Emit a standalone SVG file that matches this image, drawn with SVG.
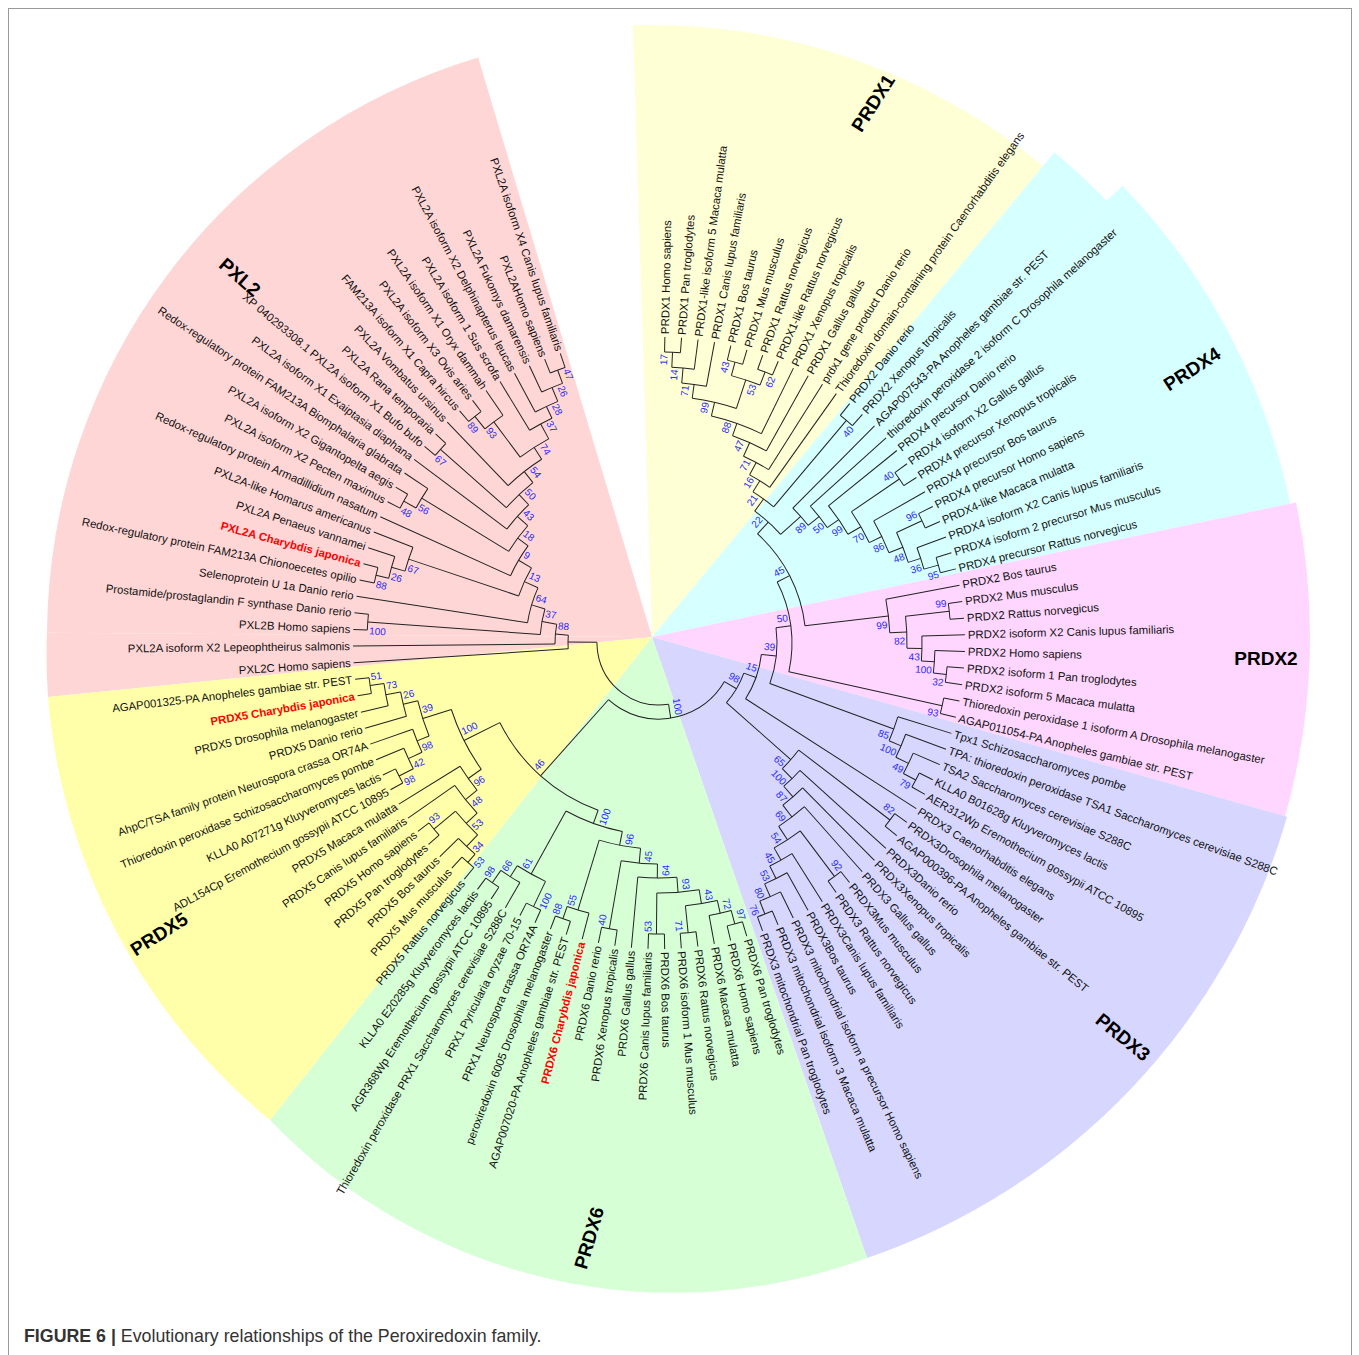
<svg xmlns="http://www.w3.org/2000/svg" width="1359" height="1355" viewBox="0 0 1359 1355">
<style>
text{font-family:"Liberation Sans",Arial,Helvetica,sans-serif}
.lf text{font-size:11.4px;fill:#111}
.lf .e{text-anchor:end}
.lf .red{fill:#ff0000;font-weight:bold}
.bs text{font-size:10px;fill:#2b2bf5}
.bs .e{text-anchor:end}
.cl{font-size:19px;font-weight:bold;text-anchor:middle;fill:#000}
#connectors line,#connectors circle{fill:none;stroke:#222;stroke-width:1}
</style>
<rect width="1359" height="1355" fill="#fff"/>
<rect x="8.5" y="8.5" width="1343" height="1360" fill="none" stroke="#999"/>
<g id="sectors">
<path d="M652 637L48 697A605 605 0 0 1 47 632.8Z" fill="#ffd6d6"/>
<path d="M652 637L47 632.8A605 605 0 0 1 478.1 57.5Z" fill="#ffd6d6"/>
<path d="M652 637L632.8 25.3A612 612 0 0 1 1042.9 166.1Z" fill="#ffffd6"/>
<path d="M652 637L1054.4 152.3A630 630 0 0 1 1106.7 201Z" fill="#d6ffff"/>
<path d="M652 637L1122.6 185.7A652 652 0 0 1 1290.2 503.7Z" fill="#d6ffff"/>
<path d="M652 637L1296.1 502.4A658 658 0 0 1 1285.1 816.2Z" fill="#ffd6ff"/>
<path d="M652 637L1287.1 816.7A660 660 0 0 1 867 1258Z" fill="#d6d6ff"/>
<path d="M652 637L867 1258A557 557 0 0 1 270 1120Z" fill="#d6ffd6"/>
<path d="M652 637L270 1120A612 612 0 0 1 48 697Z" fill="#ffffaa"/>
</g>
<g id="clade-labels">
<text class="cl" transform="translate(240 277) rotate(41)" dy="0.35em">PXL2</text>
<text class="cl" transform="translate(873 103) rotate(-57.5)" dy="0.35em">PRDX1</text>
<text class="cl" transform="translate(1192 369) rotate(-33)" dy="0.35em">PRDX4</text>
<text class="cl" transform="translate(1266 658)" dy="0.35em">PRDX2</text>
<text class="cl" transform="translate(1123 1037) rotate(39)" dy="0.35em">PRDX3</text>
<text class="cl" transform="translate(589 1238) rotate(-73.6)" dy="0.35em">PRDX6</text>
<text class="cl" transform="translate(159 934) rotate(-32.5)" dy="0.35em">PRDX5</text>
</g>
<g id="connectors" transform="translate(659 643)">
<circle r="62" pathLength="360" stroke-dasharray="99.47 360" transform="rotate(81.13)"/>
<line x1="62" x2="76" transform="rotate(81.13)"/><line x1="62" x2="91" transform="rotate(180.6)"/>
<circle r="76" pathLength="360" stroke-dasharray="101.18 360" transform="rotate(30.54)"/>
<line x1="76" x2="90" transform="rotate(30.54)"/><line x1="76" x2="178" transform="rotate(131.72)"/>
<circle r="90" pathLength="360" stroke-dasharray="21.94 360" transform="rotate(19.57)"/>
<line x1="90" x2="103" transform="rotate(19.57)"/><line x1="90" x2="176" transform="rotate(41.51)"/>
<circle r="103" pathLength="360" stroke-dasharray="26.42 360" transform="rotate(6.36)"/>
<line x1="103" x2="118" transform="rotate(6.36)"/><line x1="103" x2="306" transform="rotate(32.78)"/>
<circle r="118" pathLength="360" stroke-dasharray="27.51 360" transform="rotate(-7.4)"/>
<line x1="118" x2="133" transform="rotate(-7.4)"/><line x1="118" x2="250" transform="rotate(20.11)"/>
<circle r="133" pathLength="360" stroke-dasharray="39.8 360" transform="rotate(-27.3)"/>
<line x1="133" x2="147" transform="rotate(-27.3)"/><line x1="133" x2="290" transform="rotate(12.5)"/>
<circle r="147" pathLength="360" stroke-dasharray="41.18 360" transform="rotate(-47.89)"/>
<line x1="147" x2="163" transform="rotate(-47.89)"/><line x1="147" x2="231" transform="rotate(-6.71)"/>
<circle r="163" pathLength="360" stroke-dasharray="12.27 360" transform="rotate(-54.02)"/>
<line x1="163" x2="178" transform="rotate(-54.02)"/><line x1="163" x2="190" transform="rotate(-41.75)"/>
<circle r="178" pathLength="360" stroke-dasharray="8.23 360" transform="rotate(-58.13)"/>
<line x1="178" x2="191" transform="rotate(-58.13)"/><line x1="178" x2="291" transform="rotate(-49.9)"/>
<circle r="191" pathLength="360" stroke-dasharray="7.1 360" transform="rotate(-61.68)"/>
<line x1="191" x2="205" transform="rotate(-61.68)"/><line x1="191" x2="306" transform="rotate(-54.58)"/>
<circle r="205" pathLength="360" stroke-dasharray="7.95 360" transform="rotate(-65.65)"/>
<line x1="205" x2="220" transform="rotate(-65.65)"/><line x1="205" x2="306" transform="rotate(-57.7)"/>
<circle r="220" pathLength="360" stroke-dasharray="9.65 360" transform="rotate(-70.47)"/>
<line x1="220" x2="233" transform="rotate(-70.47)"/><line x1="220" x2="306" transform="rotate(-60.82)"/>
<circle r="233" pathLength="360" stroke-dasharray="13.06 360" transform="rotate(-77)"/>
<line x1="233" x2="247" transform="rotate(-77)"/><line x1="233" x2="306" transform="rotate(-63.94)"/>
<circle r="247" pathLength="360" stroke-dasharray="10.53 360" transform="rotate(-82.27)"/>
<line x1="247" x2="261" transform="rotate(-82.27)"/><line x1="247" x2="277" transform="rotate(-71.74)"/>
<circle r="261" pathLength="360" stroke-dasharray="5.46 360" transform="rotate(-85)"/>
<line x1="261" x2="276" transform="rotate(-85)"/><line x1="261" x2="306" transform="rotate(-79.54)"/>
<circle r="276" pathLength="360" stroke-dasharray="4.68 360" transform="rotate(-87.34)"/>
<line x1="276" x2="291" transform="rotate(-87.34)"/><line x1="276" x2="306" transform="rotate(-82.66)"/>
<circle r="291" pathLength="360" stroke-dasharray="3.12 360" transform="rotate(-88.9)"/>
<line x1="291" x2="306" transform="rotate(-88.9)"/><line x1="291" x2="306" transform="rotate(-85.78)"/>
<circle r="277" pathLength="360" stroke-dasharray="6.24 360" transform="rotate(-74.86)"/>
<line x1="277" x2="291" transform="rotate(-74.86)"/><line x1="277" x2="291" transform="rotate(-68.62)"/>
<circle r="291" pathLength="360" stroke-dasharray="3.12 360" transform="rotate(-76.42)"/>
<line x1="291" x2="306" transform="rotate(-76.42)"/><line x1="291" x2="306" transform="rotate(-73.3)"/>
<circle r="291" pathLength="360" stroke-dasharray="3.12 360" transform="rotate(-70.18)"/>
<line x1="291" x2="306" transform="rotate(-70.18)"/><line x1="291" x2="306" transform="rotate(-67.06)"/>
<circle r="291" pathLength="360" stroke-dasharray="3.12 360" transform="rotate(-51.46)"/>
<line x1="291" x2="306" transform="rotate(-51.46)"/><line x1="291" x2="306" transform="rotate(-48.34)"/>
<circle r="190" pathLength="360" stroke-dasharray="6.94 360" transform="rotate(-45.22)"/>
<line x1="190" x2="306" transform="rotate(-45.22)"/><line x1="190" x2="204" transform="rotate(-38.28)"/>
<circle r="204" pathLength="360" stroke-dasharray="7.65 360" transform="rotate(-42.1)"/>
<line x1="204" x2="306" transform="rotate(-42.1)"/><line x1="204" x2="218" transform="rotate(-34.45)"/>
<circle r="218" pathLength="360" stroke-dasharray="9.06 360" transform="rotate(-38.98)"/>
<line x1="218" x2="306" transform="rotate(-38.98)"/><line x1="218" x2="233" transform="rotate(-29.92)"/>
<circle r="233" pathLength="360" stroke-dasharray="8.77 360" transform="rotate(-34.3)"/>
<line x1="233" x2="291" transform="rotate(-34.3)"/><line x1="233" x2="247" transform="rotate(-25.53)"/>
<circle r="291" pathLength="360" stroke-dasharray="3.12 360" transform="rotate(-35.86)"/>
<line x1="291" x2="306" transform="rotate(-35.86)"/><line x1="291" x2="306" transform="rotate(-32.74)"/>
<circle r="247" pathLength="360" stroke-dasharray="8.19 360" transform="rotate(-29.62)"/>
<line x1="247" x2="306" transform="rotate(-29.62)"/><line x1="247" x2="262" transform="rotate(-21.43)"/>
<circle r="262" pathLength="360" stroke-dasharray="7.02 360" transform="rotate(-24.94)"/>
<line x1="262" x2="290" transform="rotate(-24.94)"/><line x1="262" x2="275" transform="rotate(-17.92)"/>
<circle r="290" pathLength="360" stroke-dasharray="3.12 360" transform="rotate(-26.5)"/>
<line x1="290" x2="306" transform="rotate(-26.5)"/><line x1="290" x2="306" transform="rotate(-23.38)"/>
<circle r="275" pathLength="360" stroke-dasharray="4.68 360" transform="rotate(-20.26)"/>
<line x1="275" x2="306" transform="rotate(-20.26)"/><line x1="275" x2="290" transform="rotate(-15.58)"/>
<circle r="290" pathLength="360" stroke-dasharray="3.12 360" transform="rotate(-17.14)"/>
<line x1="290" x2="306" transform="rotate(-17.14)"/><line x1="290" x2="306" transform="rotate(-14.02)"/>
<circle r="231" pathLength="360" stroke-dasharray="8.38 360" transform="rotate(-10.9)"/>
<line x1="231" x2="306" transform="rotate(-10.9)"/><line x1="231" x2="248" transform="rotate(-2.52)"/>
<circle r="248" pathLength="360" stroke-dasharray="7.41 360" transform="rotate(-6.22)"/>
<line x1="248" x2="292" transform="rotate(-6.22)"/><line x1="248" x2="263" transform="rotate(1.19)"/>
<circle r="292" pathLength="360" stroke-dasharray="3.12 360" transform="rotate(-7.78)"/>
<line x1="292" x2="306" transform="rotate(-7.78)"/><line x1="292" x2="306" transform="rotate(-4.66)"/>
<circle r="263" pathLength="360" stroke-dasharray="5.46 360" transform="rotate(-1.54)"/>
<line x1="263" x2="306" transform="rotate(-1.54)"/><line x1="263" x2="276" transform="rotate(3.92)"/>
<circle r="276" pathLength="360" stroke-dasharray="4.68 360" transform="rotate(1.58)"/>
<line x1="276" x2="306" transform="rotate(1.58)"/><line x1="276" x2="289" transform="rotate(6.26)"/>
<circle r="289" pathLength="360" stroke-dasharray="3.12 360" transform="rotate(4.7)"/>
<line x1="289" x2="306" transform="rotate(4.7)"/><line x1="289" x2="306" transform="rotate(7.82)"/>
<circle r="290" pathLength="360" stroke-dasharray="3.12 360" transform="rotate(10.94)"/>
<line x1="290" x2="306" transform="rotate(10.94)"/><line x1="290" x2="306" transform="rotate(14.06)"/>
<circle r="250" pathLength="360" stroke-dasharray="5.85 360" transform="rotate(17.18)"/>
<line x1="250" x2="306" transform="rotate(17.18)"/><line x1="250" x2="263" transform="rotate(23.03)"/>
<circle r="263" pathLength="360" stroke-dasharray="5.46 360" transform="rotate(20.3)"/>
<line x1="263" x2="306" transform="rotate(20.3)"/><line x1="263" x2="277" transform="rotate(25.76)"/>
<circle r="277" pathLength="360" stroke-dasharray="4.68 360" transform="rotate(23.42)"/>
<line x1="277" x2="306" transform="rotate(23.42)"/><line x1="277" x2="291" transform="rotate(28.1)"/>
<circle r="291" pathLength="360" stroke-dasharray="3.12 360" transform="rotate(26.54)"/>
<line x1="291" x2="306" transform="rotate(26.54)"/><line x1="291" x2="306" transform="rotate(29.66)"/>
<circle r="176" pathLength="360" stroke-dasharray="8.09 360" transform="rotate(37.46)"/>
<line x1="176" x2="291" transform="rotate(37.46)"/><line x1="176" x2="190" transform="rotate(45.55)"/>
<circle r="291" pathLength="360" stroke-dasharray="3.12 360" transform="rotate(35.9)"/>
<line x1="291" x2="306" transform="rotate(35.9)"/><line x1="291" x2="306" transform="rotate(39.02)"/>
<circle r="190" pathLength="360" stroke-dasharray="6.81 360" transform="rotate(42.14)"/>
<line x1="190" x2="306" transform="rotate(42.14)"/><line x1="190" x2="204" transform="rotate(48.95)"/>
<circle r="204" pathLength="360" stroke-dasharray="7.37 360" transform="rotate(45.26)"/>
<line x1="204" x2="306" transform="rotate(45.26)"/><line x1="204" x2="219" transform="rotate(52.63)"/>
<circle r="219" pathLength="360" stroke-dasharray="8.49 360" transform="rotate(48.38)"/>
<line x1="219" x2="306" transform="rotate(48.38)"/><line x1="219" x2="235" transform="rotate(56.87)"/>
<circle r="235" pathLength="360" stroke-dasharray="7.61 360" transform="rotate(53.06)"/>
<line x1="235" x2="292" transform="rotate(53.06)"/><line x1="235" x2="249" transform="rotate(60.67)"/>
<circle r="292" pathLength="360" stroke-dasharray="3.12 360" transform="rotate(51.5)"/>
<line x1="292" x2="306" transform="rotate(51.5)"/><line x1="292" x2="306" transform="rotate(54.62)"/>
<circle r="249" pathLength="360" stroke-dasharray="5.85 360" transform="rotate(57.74)"/>
<line x1="249" x2="306" transform="rotate(57.74)"/><line x1="249" x2="263" transform="rotate(63.59)"/>
<circle r="263" pathLength="360" stroke-dasharray="5.46 360" transform="rotate(60.86)"/>
<line x1="263" x2="306" transform="rotate(60.86)"/><line x1="263" x2="277" transform="rotate(66.32)"/>
<circle r="277" pathLength="360" stroke-dasharray="4.68 360" transform="rotate(63.98)"/>
<line x1="277" x2="306" transform="rotate(63.98)"/><line x1="277" x2="291" transform="rotate(68.66)"/>
<circle r="291" pathLength="360" stroke-dasharray="3.12 360" transform="rotate(67.1)"/>
<line x1="291" x2="306" transform="rotate(67.1)"/><line x1="291" x2="306" transform="rotate(70.22)"/>
<circle r="178" pathLength="360" stroke-dasharray="43.45 360" transform="rotate(109.99)"/>
<line x1="178" x2="192" transform="rotate(109.99)"/><line x1="178" x2="218" transform="rotate(153.44)"/>
<circle r="192" pathLength="360" stroke-dasharray="17.96 360" transform="rotate(101.01)"/>
<line x1="192" x2="206" transform="rotate(101.01)"/><line x1="192" x2="264" transform="rotate(118.97)"/>
<circle r="206" pathLength="360" stroke-dasharray="11.74 360" transform="rotate(95.14)"/>
<line x1="206" x2="221" transform="rotate(95.14)"/><line x1="206" x2="279" transform="rotate(106.88)"/>
<circle r="221" pathLength="360" stroke-dasharray="9.45 360" transform="rotate(90.41)"/>
<line x1="221" x2="235" transform="rotate(90.41)"/><line x1="221" x2="290" transform="rotate(99.86)"/>
<circle r="235" pathLength="360" stroke-dasharray="9.55 360" transform="rotate(85.63)"/>
<line x1="235" x2="250" transform="rotate(85.63)"/><line x1="235" x2="306" transform="rotate(95.18)"/>
<circle r="250" pathLength="360" stroke-dasharray="9.75 360" transform="rotate(80.75)"/>
<line x1="250" x2="264" transform="rotate(80.75)"/><line x1="250" x2="291" transform="rotate(90.5)"/>
<circle r="264" pathLength="360" stroke-dasharray="7.02 360" transform="rotate(77.24)"/>
<line x1="264" x2="277" transform="rotate(77.24)"/><line x1="264" x2="291" transform="rotate(84.26)"/>
<circle r="277" pathLength="360" stroke-dasharray="4.68 360" transform="rotate(74.9)"/>
<line x1="277" x2="291" transform="rotate(74.9)"/><line x1="277" x2="306" transform="rotate(79.58)"/>
<circle r="291" pathLength="360" stroke-dasharray="3.12 360" transform="rotate(73.34)"/>
<line x1="291" x2="306" transform="rotate(73.34)"/><line x1="291" x2="306" transform="rotate(76.46)"/>
<circle r="291" pathLength="360" stroke-dasharray="3.12 360" transform="rotate(82.7)"/>
<line x1="291" x2="306" transform="rotate(82.7)"/><line x1="291" x2="306" transform="rotate(85.82)"/>
<circle r="291" pathLength="360" stroke-dasharray="3.12 360" transform="rotate(88.94)"/>
<line x1="291" x2="306" transform="rotate(88.94)"/><line x1="291" x2="306" transform="rotate(92.06)"/>
<circle r="290" pathLength="360" stroke-dasharray="3.12 360" transform="rotate(98.3)"/>
<line x1="290" x2="306" transform="rotate(98.3)"/><line x1="290" x2="306" transform="rotate(101.42)"/>
<circle r="279" pathLength="360" stroke-dasharray="4.68 360" transform="rotate(104.54)"/>
<line x1="279" x2="306" transform="rotate(104.54)"/><line x1="279" x2="292" transform="rotate(109.22)"/>
<circle r="292" pathLength="360" stroke-dasharray="3.12 360" transform="rotate(107.66)"/>
<line x1="292" x2="306" transform="rotate(107.66)"/><line x1="292" x2="306" transform="rotate(110.78)"/>
<circle r="264" pathLength="360" stroke-dasharray="7.02 360" transform="rotate(115.46)"/>
<line x1="264" x2="292" transform="rotate(115.46)"/><line x1="264" x2="277" transform="rotate(122.48)"/>
<circle r="292" pathLength="360" stroke-dasharray="3.12 360" transform="rotate(113.9)"/>
<line x1="292" x2="306" transform="rotate(113.9)"/><line x1="292" x2="306" transform="rotate(117.02)"/>
<circle r="277" pathLength="360" stroke-dasharray="4.68 360" transform="rotate(120.14)"/>
<line x1="277" x2="306" transform="rotate(120.14)"/><line x1="277" x2="292" transform="rotate(124.82)"/>
<circle r="292" pathLength="360" stroke-dasharray="3.12 360" transform="rotate(123.26)"/>
<line x1="292" x2="306" transform="rotate(123.26)"/><line x1="292" x2="306" transform="rotate(126.38)"/>
<circle r="218" pathLength="360" stroke-dasharray="17.64 360" transform="rotate(144.62)"/>
<line x1="218" x2="234" transform="rotate(144.62)"/><line x1="218" x2="248" transform="rotate(162.26)"/>
<circle r="234" pathLength="360" stroke-dasharray="7.21 360" transform="rotate(141.01)"/>
<line x1="234" x2="249" transform="rotate(141.01)"/><line x1="234" x2="306" transform="rotate(148.22)"/>
<circle r="249" pathLength="360" stroke-dasharray="8.19 360" transform="rotate(136.91)"/>
<line x1="249" x2="264" transform="rotate(136.91)"/><line x1="249" x2="306" transform="rotate(145.1)"/>
<circle r="264" pathLength="360" stroke-dasharray="7.02 360" transform="rotate(133.4)"/>
<line x1="264" x2="280" transform="rotate(133.4)"/><line x1="264" x2="292" transform="rotate(140.42)"/>
<circle r="280" pathLength="360" stroke-dasharray="4.68 360" transform="rotate(131.06)"/>
<line x1="280" x2="291" transform="rotate(131.06)"/><line x1="280" x2="306" transform="rotate(135.74)"/>
<circle r="291" pathLength="360" stroke-dasharray="3.12 360" transform="rotate(129.5)"/>
<line x1="291" x2="306" transform="rotate(129.5)"/><line x1="291" x2="306" transform="rotate(132.62)"/>
<circle r="292" pathLength="360" stroke-dasharray="3.12 360" transform="rotate(138.86)"/>
<line x1="292" x2="306" transform="rotate(138.86)"/><line x1="292" x2="306" transform="rotate(141.98)"/>
<circle r="248" pathLength="360" stroke-dasharray="8.58 360" transform="rotate(157.97)"/>
<line x1="248" x2="261" transform="rotate(157.97)"/><line x1="248" x2="263" transform="rotate(166.55)"/>
<circle r="261" pathLength="360" stroke-dasharray="5.46 360" transform="rotate(155.24)"/>
<line x1="261" x2="276" transform="rotate(155.24)"/><line x1="261" x2="306" transform="rotate(160.7)"/>
<circle r="276" pathLength="360" stroke-dasharray="4.68 360" transform="rotate(152.9)"/>
<line x1="276" x2="292" transform="rotate(152.9)"/><line x1="276" x2="306" transform="rotate(157.58)"/>
<circle r="292" pathLength="360" stroke-dasharray="3.12 360" transform="rotate(151.34)"/>
<line x1="292" x2="306" transform="rotate(151.34)"/><line x1="292" x2="306" transform="rotate(154.46)"/>
<circle r="263" pathLength="360" stroke-dasharray="5.46 360" transform="rotate(163.82)"/>
<line x1="263" x2="306" transform="rotate(163.82)"/><line x1="263" x2="278" transform="rotate(169.28)"/>
<circle r="278" pathLength="360" stroke-dasharray="4.68 360" transform="rotate(166.94)"/>
<line x1="278" x2="306" transform="rotate(166.94)"/><line x1="278" x2="292" transform="rotate(171.62)"/>
<circle r="292" pathLength="360" stroke-dasharray="3.12 360" transform="rotate(170.06)"/>
<line x1="292" x2="306" transform="rotate(170.06)"/><line x1="292" x2="306" transform="rotate(173.18)"/>
<circle r="91" pathLength="360" stroke-dasharray="8.6 360" transform="rotate(176.3)"/>
<line x1="91" x2="306" transform="rotate(176.3)"/><line x1="91" x2="104" transform="rotate(184.9)"/>
<circle r="104" pathLength="360" stroke-dasharray="10.96 360" transform="rotate(179.42)"/>
<line x1="104" x2="306" transform="rotate(179.42)"/><line x1="104" x2="119" transform="rotate(190.38)"/>
<circle r="119" pathLength="360" stroke-dasharray="12.55 360" transform="rotate(184.1)"/>
<line x1="119" x2="292" transform="rotate(184.1)"/><line x1="119" x2="133" transform="rotate(196.65)"/>
<circle r="292" pathLength="360" stroke-dasharray="3.12 360" transform="rotate(182.54)"/>
<line x1="292" x2="306" transform="rotate(182.54)"/><line x1="292" x2="306" transform="rotate(185.66)"/>
<circle r="133" pathLength="360" stroke-dasharray="15.73 360" transform="rotate(188.78)"/>
<line x1="133" x2="306" transform="rotate(188.78)"/><line x1="133" x2="148" transform="rotate(204.51)"/>
<circle r="148" pathLength="360" stroke-dasharray="11.96 360" transform="rotate(198.53)"/>
<line x1="148" x2="264" transform="rotate(198.53)"/><line x1="148" x2="163" transform="rotate(210.49)"/>
<circle r="264" pathLength="360" stroke-dasharray="5.46 360" transform="rotate(195.8)"/>
<line x1="264" x2="278" transform="rotate(195.8)"/><line x1="264" x2="306" transform="rotate(201.26)"/>
<circle r="278" pathLength="360" stroke-dasharray="4.68 360" transform="rotate(193.46)"/>
<line x1="278" x2="291" transform="rotate(193.46)"/><line x1="278" x2="306" transform="rotate(198.14)"/>
<circle r="291" pathLength="360" stroke-dasharray="3.12 360" transform="rotate(191.9)"/>
<line x1="291" x2="306" transform="rotate(191.9)"/><line x1="291" x2="306" transform="rotate(195.02)"/>
<circle r="163" pathLength="360" stroke-dasharray="12.21 360" transform="rotate(204.38)"/>
<line x1="163" x2="306" transform="rotate(204.38)"/><line x1="163" x2="176" transform="rotate(216.59)"/>
<circle r="176" pathLength="360" stroke-dasharray="10.38 360" transform="rotate(211.4)"/>
<line x1="176" x2="278" transform="rotate(211.4)"/><line x1="176" x2="190" transform="rotate(221.78)"/>
<circle r="278" pathLength="360" stroke-dasharray="4.68 360" transform="rotate(209.06)"/>
<line x1="278" x2="292" transform="rotate(209.06)"/><line x1="278" x2="306" transform="rotate(213.74)"/>
<circle r="292" pathLength="360" stroke-dasharray="3.12 360" transform="rotate(207.5)"/>
<line x1="292" x2="306" transform="rotate(207.5)"/><line x1="292" x2="306" transform="rotate(210.62)"/>
<circle r="190" pathLength="360" stroke-dasharray="9.83 360" transform="rotate(216.86)"/>
<line x1="190" x2="306" transform="rotate(216.86)"/><line x1="190" x2="204" transform="rotate(226.69)"/>
<circle r="204" pathLength="360" stroke-dasharray="10.29 360" transform="rotate(221.54)"/>
<line x1="204" x2="292" transform="rotate(221.54)"/><line x1="204" x2="218" transform="rotate(231.83)"/>
<circle r="292" pathLength="360" stroke-dasharray="3.12 360" transform="rotate(219.98)"/>
<line x1="292" x2="306" transform="rotate(219.98)"/><line x1="292" x2="306" transform="rotate(223.1)"/>
<circle r="218" pathLength="360" stroke-dasharray="11.22 360" transform="rotate(226.22)"/>
<line x1="218" x2="306" transform="rotate(226.22)"/><line x1="218" x2="232" transform="rotate(237.44)"/>
<circle r="232" pathLength="360" stroke-dasharray="8.39 360" transform="rotate(233.24)"/>
<line x1="232" x2="276" transform="rotate(233.24)"/><line x1="232" x2="249" transform="rotate(241.63)"/>
<circle r="276" pathLength="360" stroke-dasharray="4.68 360" transform="rotate(230.9)"/>
<line x1="276" x2="292" transform="rotate(230.9)"/><line x1="276" x2="306" transform="rotate(235.58)"/>
<circle r="292" pathLength="360" stroke-dasharray="3.12 360" transform="rotate(229.34)"/>
<line x1="292" x2="306" transform="rotate(229.34)"/><line x1="292" x2="306" transform="rotate(232.46)"/>
<circle r="249" pathLength="360" stroke-dasharray="5.85 360" transform="rotate(238.7)"/>
<line x1="249" x2="306" transform="rotate(238.7)"/><line x1="249" x2="262" transform="rotate(244.55)"/>
<circle r="262" pathLength="360" stroke-dasharray="5.46 360" transform="rotate(241.82)"/>
<line x1="262" x2="306" transform="rotate(241.82)"/><line x1="262" x2="277" transform="rotate(247.28)"/>
<circle r="277" pathLength="360" stroke-dasharray="4.68 360" transform="rotate(244.94)"/>
<line x1="277" x2="306" transform="rotate(244.94)"/><line x1="277" x2="291" transform="rotate(249.62)"/>
<circle r="291" pathLength="360" stroke-dasharray="3.12 360" transform="rotate(248.06)"/>
<line x1="291" x2="306" transform="rotate(248.06)"/><line x1="291" x2="306" transform="rotate(251.18)"/>
</g>
<g id="leaves" class="lf" transform="translate(659 643)">
<text transform="rotate(-88.9)" x="309" y="4">PRDX1 Homo sapiens</text>
<text transform="rotate(-85.78)" x="309" y="4">PRDX1 Pan troglodytes</text>
<text transform="rotate(-82.66)" x="309" y="4">PRDX1-like isoform 5 Macaca mulatta</text>
<text transform="rotate(-79.54)" x="309" y="4">PRDX1 Canis lupus familiaris</text>
<text transform="rotate(-76.42)" x="309" y="4">PRDX1 Bos taurus</text>
<text transform="rotate(-73.3)" x="309" y="4">PRDX1 Mus musculus</text>
<text transform="rotate(-70.18)" x="309" y="4">PRDX1 Rattus norvegicus</text>
<text transform="rotate(-67.06)" x="309" y="4">PRDX1-like Rattus norvegicus</text>
<text transform="rotate(-63.94)" x="309" y="4">PRDX1 Xenopus tropicalis</text>
<text transform="rotate(-60.82)" x="309" y="4">PRDX1 Gallus gallus</text>
<text transform="rotate(-57.7)" x="309" y="4">prdx1 gene product Danio rerio</text>
<text transform="rotate(-54.58)" x="309" y="4">Thioredoxin domain-containing protein Caenorhabditis elegans</text>
<text transform="rotate(-51.46)" x="309" y="4">PRDX2 Danio rerio</text>
<text transform="rotate(-48.34)" x="309" y="4">PRDX2 Xenopus tropicalis</text>
<text transform="rotate(-45.22)" x="309" y="4">AGAP007543-PA Anopheles gambiae str. PEST</text>
<text transform="rotate(-42.1)" x="309" y="4">thioredoxin peroxidase 2 isoform C Drosophila melanogaster</text>
<text transform="rotate(-38.98)" x="309" y="4">PRDX4 precursor Danio rerio</text>
<text transform="rotate(-35.86)" x="309" y="4">PRDX4 isoform X2 Gallus gallus</text>
<text transform="rotate(-32.74)" x="309" y="4">PRDX4 precursor Xenopus tropicalis</text>
<text transform="rotate(-29.62)" x="309" y="4">PRDX4 precursor Bos taurus</text>
<text transform="rotate(-26.5)" x="309" y="4">PRDX4 precursor Homo sapiens</text>
<text transform="rotate(-23.38)" x="309" y="4">PRDX4-like Macaca mulatta</text>
<text transform="rotate(-20.26)" x="309" y="4">PRDX4 isoform X2 Canis lupus familiaris</text>
<text transform="rotate(-17.14)" x="309" y="4">PRDX4 isoform 2 precursor Mus musculus</text>
<text transform="rotate(-14.02)" x="309" y="4">PRDX4 precursor Rattus norvegicus</text>
<text transform="rotate(-10.9)" x="309" y="4">PRDX2 Bos taurus</text>
<text transform="rotate(-7.78)" x="309" y="4">PRDX2 Mus musculus</text>
<text transform="rotate(-4.66)" x="309" y="4">PRDX2 Rattus norvegicus</text>
<text transform="rotate(-1.54)" x="309" y="4">PRDX2 isoform X2 Canis lupus familiaris</text>
<text transform="rotate(1.58)" x="309" y="4">PRDX2 Homo sapiens</text>
<text transform="rotate(4.7)" x="309" y="4">PRDX2 isoform 1 Pan troglodytes</text>
<text transform="rotate(7.82)" x="309" y="4">PRDX2 isoform 5 Macaca mulatta</text>
<text transform="rotate(10.94)" x="309" y="4">Thioredoxin peroxidase 1 isoform A Drosophila melanogaster</text>
<text transform="rotate(14.06)" x="309" y="4">AGAP011054-PA Anopheles gambiae str. PEST</text>
<text transform="rotate(17.18)" x="309" y="4">Tpx1 Schizosaccharomyces pombe</text>
<text transform="rotate(20.3)" x="309" y="4">TPA: thioredoxin peroxidase TSA1 Saccharomyces cerevisiae S288C</text>
<text transform="rotate(23.42)" x="309" y="4">TSA2 Saccharomyces cerevisiae S288C</text>
<text transform="rotate(26.54)" x="309" y="4">KLLA0 B01628g Kluyveromyces lactis</text>
<text transform="rotate(29.66)" x="309" y="4">AER312Wp Eremothecium gossypii ATCC 10895</text>
<text transform="rotate(32.78)" x="309" y="4">PRDX3 Caenorhabditis elegans</text>
<text transform="rotate(35.9)" x="309" y="4">PRDX3Drosophila melanogaster</text>
<text transform="rotate(39.02)" x="309" y="4">AGAP000396-PA Anopheles gambiae str. PEST</text>
<text transform="rotate(42.14)" x="309" y="4">PRDX3Danio rerio</text>
<text transform="rotate(45.26)" x="309" y="4">PRDX3Xenopus tropicalis</text>
<text transform="rotate(48.38)" x="309" y="4">PRDX3 Gallus gallus</text>
<text transform="rotate(51.5)" x="309" y="4">PRDX3Mus musculus</text>
<text transform="rotate(54.62)" x="309" y="4">PRDX3 Rattus norvegicus</text>
<text transform="rotate(57.74)" x="309" y="4">PRDX3Canis lupus familiaris</text>
<text transform="rotate(60.86)" x="309" y="4">PRDX3Bos taurus</text>
<text transform="rotate(63.98)" x="309" y="4">PRDX3 mitochondrial isoform a precursor Homo sapiens</text>
<text transform="rotate(67.1)" x="309" y="4">PRDX3 mitochondrial isoform 3 Macaca mulatta</text>
<text transform="rotate(70.22)" x="309" y="4">PRDX3 mitochondrial Pan troglodytes</text>
<text transform="rotate(73.34)" x="309" y="4">PRDX6 Pan troglodytes</text>
<text transform="rotate(76.46)" x="309" y="4">PRDX6 Homo sapiens</text>
<text transform="rotate(79.58)" x="309" y="4">PRDX6 Macaca mulatta</text>
<text transform="rotate(82.7)" x="309" y="4">PRDX6 Rattus norvegicus</text>
<text transform="rotate(85.82)" x="309" y="4">PRDX6 isoform 1 Mus musculus</text>
<text transform="rotate(88.94)" x="309" y="4">PRDX6 Bos taurus</text>
<text class="e" transform="rotate(-87.94)" x="-309" y="4">PRDX6 Canis lupus familiaris</text>
<text class="e" transform="rotate(-84.82)" x="-309" y="4">PRDX6 Gallus gallus</text>
<text class="e" transform="rotate(-81.7)" x="-309" y="4">PRDX6 Xenopus tropicalis</text>
<text class="e" transform="rotate(-78.58)" x="-309" y="4">PRDX6 Danio rerio</text>
<text class="e red" transform="rotate(-75.46)" x="-309" y="4">PRDX6 Charybdis japonica</text>
<text class="e" transform="rotate(-72.34)" x="-309" y="4">AGAP007020-PA Anopheles gambiae str. PEST</text>
<text class="e" transform="rotate(-69.22)" x="-309" y="4">peroxiredoxin 6005 Drosophila melanogaster</text>
<text class="e" transform="rotate(-66.1)" x="-309" y="4">PRX1 Neurospora crassa OR74A</text>
<text class="e" transform="rotate(-62.98)" x="-309" y="4">PRX1 Pyricularia oryzae 70-15</text>
<text class="e" transform="rotate(-59.86)" x="-309" y="4">Thioredoxin peroxidase PRX1 Saccharomyces cerevisiae S288C</text>
<text class="e" transform="rotate(-56.74)" x="-309" y="4">AGR368Wp Eremothecium gossypii ATCC 10895</text>
<text class="e" transform="rotate(-53.62)" x="-309" y="4">KLLA0 E20285g Kluyveromyces lactis</text>
<text class="e" transform="rotate(-50.5)" x="-309" y="4">PRDX5 Rattus norvegicus</text>
<text class="e" transform="rotate(-47.38)" x="-309" y="4">PRDX5 Mus musculus</text>
<text class="e" transform="rotate(-44.26)" x="-309" y="4">PRDX5 Bos taurus</text>
<text class="e" transform="rotate(-41.14)" x="-309" y="4">PRDX5 Pan troglodytes</text>
<text class="e" transform="rotate(-38.02)" x="-309" y="4">PRDX5 Homo sapiens</text>
<text class="e" transform="rotate(-34.9)" x="-309" y="4">PRDX5 Canis lupus familiaris</text>
<text class="e" transform="rotate(-31.78)" x="-309" y="4">PRDX5 Macaca mulatta</text>
<text class="e" transform="rotate(-28.66)" x="-309" y="4">ADL154Cp Eremothecium gossypii ATCC 10895</text>
<text class="e" transform="rotate(-25.54)" x="-309" y="4">KLLA0 A07271g Kluyveromyces lactis</text>
<text class="e" transform="rotate(-22.42)" x="-309" y="4">Thioredoxin peroxidase Schizosaccharomyces pombe</text>
<text class="e" transform="rotate(-19.3)" x="-309" y="4">AhpC/TSA family protein Neurospora crassa OR74A</text>
<text class="e" transform="rotate(-16.18)" x="-309" y="4">PRDX5 Danio rerio</text>
<text class="e" transform="rotate(-13.06)" x="-309" y="4">PRDX5 Drosophila melanogaster</text>
<text class="e red" transform="rotate(-9.94)" x="-309" y="4">PRDX5 Charybdis japonica</text>
<text class="e" transform="rotate(-6.82)" x="-309" y="4">AGAP001325-PA Anopheles gambiae str. PEST</text>
<text class="e" transform="rotate(-3.7)" x="-309" y="4">PXL2C Homo sapiens</text>
<text class="e" transform="rotate(-0.58)" x="-309" y="4">PXL2A isoform X2 Lepeophtheirus salmonis</text>
<text class="e" transform="rotate(2.54)" x="-309" y="4">PXL2B Homo sapiens</text>
<text class="e" transform="rotate(5.66)" x="-309" y="4">Prostamide/prostaglandin F synthase Danio rerio</text>
<text class="e" transform="rotate(8.78)" x="-309" y="4">Selenoprotein U 1a Danio rerio</text>
<text class="e" transform="rotate(11.9)" x="-309" y="4">Redox-regulatory protein FAM213A Chionoecetes opilio</text>
<text class="e red" transform="rotate(15.02)" x="-309" y="4">PXL2A Charybdis japonica</text>
<text class="e" transform="rotate(18.14)" x="-309" y="4">PXL2A Penaeus vannamei</text>
<text class="e" transform="rotate(21.26)" x="-309" y="4">PXL2A-like Homarus americanus</text>
<text class="e" transform="rotate(24.38)" x="-309" y="4">Redox-regulatory protein Armadillidium nasatum</text>
<text class="e" transform="rotate(27.5)" x="-309" y="4">PXL2A isoform X2 Pecten maximus</text>
<text class="e" transform="rotate(30.62)" x="-309" y="4">PXL2A isoform X2 Gigantopelta aegis</text>
<text class="e" transform="rotate(33.74)" x="-309" y="4">Redox-regulatory protein FAM213A Biomphalaria glabrata</text>
<text class="e" transform="rotate(36.86)" x="-309" y="4">PXL2A isoform X1 Exaiptasia diaphana</text>
<text class="e" transform="rotate(39.98)" x="-309" y="4">XP 040293308.1 PXL2A isoform X1 Bufo bufo</text>
<text class="e" transform="rotate(43.1)" x="-309" y="4">PXL2A Rana temporaria</text>
<text class="e" transform="rotate(46.22)" x="-309" y="4">PXL2A Vombatus ursinus</text>
<text class="e" transform="rotate(49.34)" x="-309" y="4">FAM213A isoform X1 Capra hircus</text>
<text class="e" transform="rotate(52.46)" x="-309" y="4">PXL2A isoform X3 Ovis aries</text>
<text class="e" transform="rotate(55.58)" x="-309" y="4">PXL2A isoform X1 Oryx dammah</text>
<text class="e" transform="rotate(58.7)" x="-309" y="4">PXL2A isoform 1 Sus scrofa</text>
<text class="e" transform="rotate(61.82)" x="-309" y="4">PXL2A isoform X2 Delphinapterus leucas</text>
<text class="e" transform="rotate(64.94)" x="-309" y="4">PXL2A Fukomys damarensis</text>
<text class="e" transform="rotate(68.06)" x="-309" y="4">PXL2AHomo sapiens</text>
<text class="e" transform="rotate(71.18)" x="-309" y="4">PXL2A isoform X4 Canis lupus familiaris</text>
</g>
<g id="bootstrap" class="bs" transform="translate(659 643)">
<text class="e" transform="rotate(81.13)" x="74" y="-5">100</text>
<text class="e" transform="rotate(30.54)" x="88" y="-5">98</text>
<text class="e" transform="rotate(19.57)" x="101" y="-5">15</text>
<text class="e" transform="rotate(41.51)" x="174" y="12">65</text>
<text class="e" transform="rotate(6.36)" x="116" y="-5">39</text>
<text class="e" transform="rotate(-7.4)" x="131" y="-5">50</text>
<text class="e" transform="rotate(20.11)" x="248" y="12">85</text>
<text class="e" transform="rotate(-27.3)" x="145" y="-5">45</text>
<text class="e" transform="rotate(12.5)" x="288" y="12">93</text>
<text class="e" transform="rotate(-47.89)" x="161" y="-5">22</text>
<text class="e" transform="rotate(-6.71)" x="229" y="12">99</text>
<text class="e" transform="rotate(-54.02)" x="176" y="-5">21</text>
<text class="e" transform="rotate(-41.75)" x="188" y="12">89</text>
<text class="e" transform="rotate(-58.13)" x="189" y="-5">16</text>
<text class="e" transform="rotate(-49.9)" x="289" y="12">40</text>
<text class="e" transform="rotate(-61.68)" x="203" y="-5">71</text>
<text class="e" transform="rotate(-65.65)" x="218" y="-5">47</text>
<text class="e" transform="rotate(-70.47)" x="231" y="-5">88</text>
<text class="e" transform="rotate(-77)" x="245" y="-5">99</text>
<text class="e" transform="rotate(-82.27)" x="259" y="-5">71</text>
<text class="e" transform="rotate(-71.74)" x="275" y="12">53</text>
<text class="e" transform="rotate(-85)" x="274" y="-5">14</text>
<text class="e" transform="rotate(-87.34)" x="289" y="-5">17</text>
<text class="e" transform="rotate(-74.86)" x="289" y="-5">43</text>
<text class="e" transform="rotate(-68.62)" x="289" y="12">62</text>
<text class="e" transform="rotate(-38.28)" x="202" y="12">50</text>
<text class="e" transform="rotate(-34.45)" x="216" y="12">99</text>
<text class="e" transform="rotate(-29.92)" x="231" y="12">70</text>
<text class="e" transform="rotate(-34.3)" x="289" y="-5">40</text>
<text class="e" transform="rotate(-25.53)" x="245" y="12">86</text>
<text class="e" transform="rotate(-21.43)" x="260" y="12">48</text>
<text class="e" transform="rotate(-24.94)" x="288" y="-5">96</text>
<text class="e" transform="rotate(-17.92)" x="273" y="12">36</text>
<text class="e" transform="rotate(-15.58)" x="288" y="12">95</text>
<text class="e" transform="rotate(-2.52)" x="246" y="12">82</text>
<text class="e" transform="rotate(-6.22)" x="290" y="-5">99</text>
<text class="e" transform="rotate(1.19)" x="261" y="12">43</text>
<text class="e" transform="rotate(3.92)" x="274" y="12">100</text>
<text class="e" transform="rotate(6.26)" x="287" y="12">32</text>
<text class="e" transform="rotate(23.03)" x="261" y="12">100</text>
<text class="e" transform="rotate(25.76)" x="275" y="12">49</text>
<text class="e" transform="rotate(28.1)" x="289" y="12">79</text>
<text class="e" transform="rotate(37.46)" x="289" y="-5">82</text>
<text class="e" transform="rotate(45.55)" x="188" y="12">100</text>
<text class="e" transform="rotate(48.95)" x="202" y="12">87</text>
<text class="e" transform="rotate(52.63)" x="217" y="12">69</text>
<text class="e" transform="rotate(56.87)" x="233" y="12">54</text>
<text class="e" transform="rotate(53.06)" x="290" y="-5">92</text>
<text class="e" transform="rotate(60.67)" x="247" y="12">45</text>
<text class="e" transform="rotate(63.59)" x="261" y="12">53</text>
<text class="e" transform="rotate(66.32)" x="275" y="12">80</text>
<text class="e" transform="rotate(68.66)" x="289" y="12">76</text>
<text class="e" transform="rotate(85.63)" x="248" y="-5">93</text>
<text class="e" transform="rotate(80.75)" x="262" y="-5">43</text>
<text class="e" transform="rotate(77.24)" x="275" y="-5">72</text>
<text class="e" transform="rotate(74.9)" x="289" y="-5">97</text>
<text class="e" transform="rotate(84.26)" x="289" y="12">71</text>
<text transform="rotate(-48.28)" x="-176" y="-5">46</text>
<text transform="rotate(-70.01)" x="-190" y="12">100</text>
<text transform="rotate(-26.56)" x="-216" y="-5">100</text>
<text transform="rotate(-78.99)" x="-204" y="12">96</text>
<text transform="rotate(-61.03)" x="-262" y="-5">61</text>
<text transform="rotate(-84.86)" x="-219" y="12">45</text>
<text transform="rotate(-73.12)" x="-277" y="-5">55</text>
<text transform="rotate(-89.59)" x="-233" y="12">64</text>
<text transform="rotate(-80.14)" x="-288" y="-5">40</text>
<text transform="rotate(-89.5)" x="-289" y="-5">53</text>
<text transform="rotate(-70.78)" x="-290" y="-5">88</text>
<text transform="rotate(-64.54)" x="-290" y="12">100</text>
<text transform="rotate(-57.52)" x="-275" y="-5">66</text>
<text transform="rotate(-55.18)" x="-290" y="-5">98</text>
<text transform="rotate(-35.38)" x="-232" y="12">96</text>
<text transform="rotate(-17.74)" x="-246" y="-5">39</text>
<text transform="rotate(-38.99)" x="-247" y="12">48</text>
<text transform="rotate(-43.09)" x="-262" y="12">53</text>
<text transform="rotate(-46.6)" x="-278" y="12">34</text>
<text transform="rotate(-39.58)" x="-290" y="-5">93</text>
<text transform="rotate(-48.94)" x="-289" y="12">53</text>
<text transform="rotate(-22.03)" x="-259" y="12">98</text>
<text transform="rotate(-13.45)" x="-261" y="-5">26</text>
<text transform="rotate(-24.76)" x="-274" y="12">42</text>
<text transform="rotate(-27.1)" x="-290" y="12">98</text>
<text transform="rotate(-10.72)" x="-276" y="-5">73</text>
<text transform="rotate(-8.38)" x="-290" y="-5">51</text>
<text transform="rotate(4.9)" x="-102" y="-5">88</text>
<text transform="rotate(10.38)" x="-117" y="-5">37</text>
<text transform="rotate(4.1)" x="-290" y="12">100</text>
<text transform="rotate(16.65)" x="-131" y="-5">64</text>
<text transform="rotate(24.51)" x="-146" y="-5">13</text>
<text transform="rotate(18.53)" x="-262" y="12">67</text>
<text transform="rotate(15.8)" x="-276" y="12">26</text>
<text transform="rotate(13.46)" x="-289" y="12">88</text>
<text transform="rotate(30.49)" x="-161" y="-5">9</text>
<text transform="rotate(36.59)" x="-174" y="-5">18</text>
<text transform="rotate(31.4)" x="-276" y="12">56</text>
<text transform="rotate(29.06)" x="-290" y="12">48</text>
<text transform="rotate(41.78)" x="-188" y="-5">43</text>
<text transform="rotate(46.69)" x="-202" y="-5">50</text>
<text transform="rotate(41.54)" x="-290" y="12">67</text>
<text transform="rotate(51.83)" x="-216" y="-5">54</text>
<text transform="rotate(57.44)" x="-230" y="-5">74</text>
<text transform="rotate(53.24)" x="-274" y="12">93</text>
<text transform="rotate(50.9)" x="-290" y="12">89</text>
<text transform="rotate(61.63)" x="-247" y="-5">37</text>
<text transform="rotate(64.55)" x="-260" y="-5">28</text>
<text transform="rotate(67.28)" x="-275" y="-5">26</text>
<text transform="rotate(69.62)" x="-289" y="-5">47</text>
</g>
<text x="24" y="1342" font-size="17.8" fill="#333"><tspan font-weight="bold">FIGURE 6 |</tspan> Evolutionary relationships of the Peroxiredoxin family.</text>
</svg>
